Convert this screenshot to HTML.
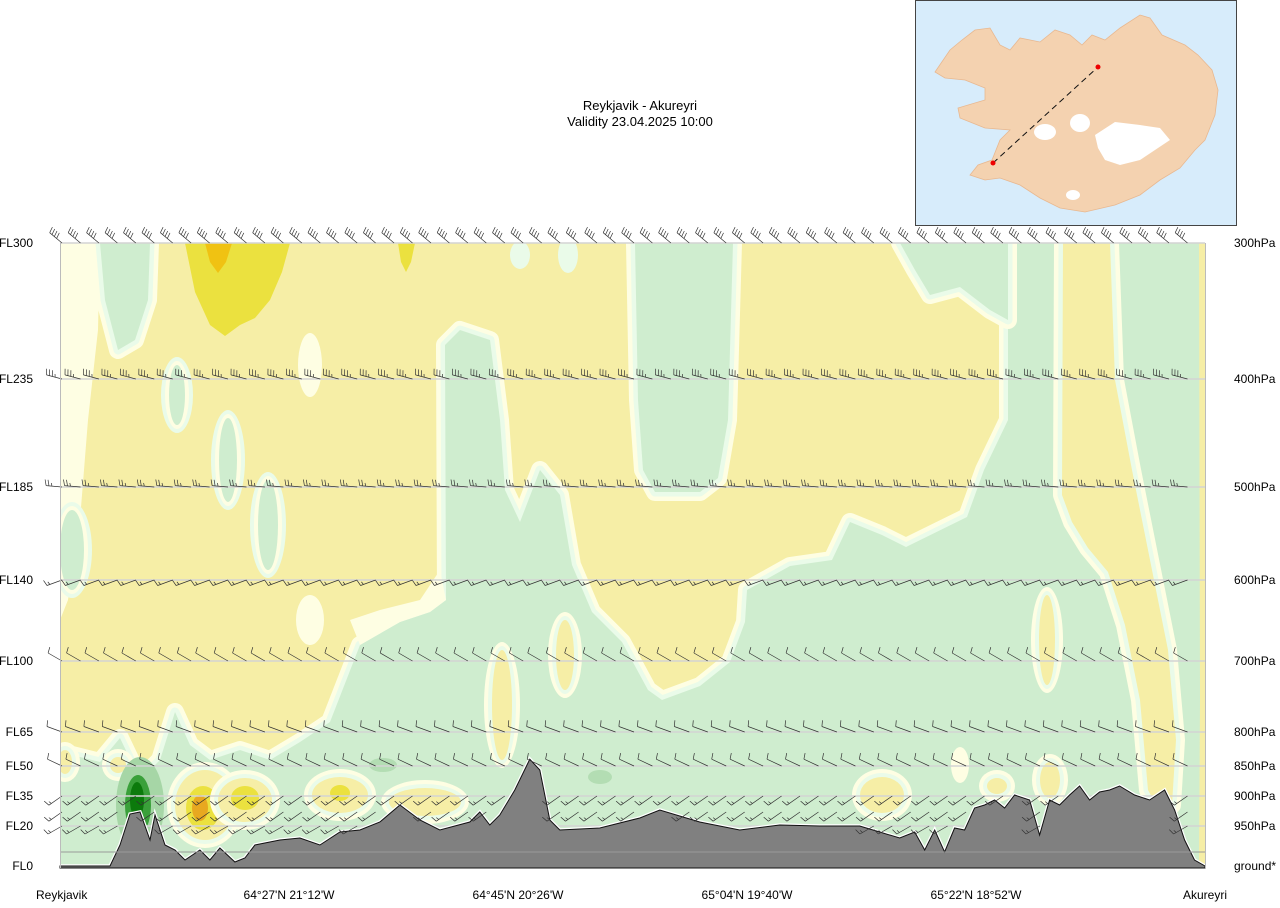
<!DOCTYPE html>
<html><head><meta charset="utf-8"><style>
html,body{margin:0;padding:0;background:#fff;}
svg{display:block;font-family:"Liberation Sans","DejaVu Sans",sans-serif;}
</style></head><body>
<svg id="chart" width="1280" height="908" viewBox="0 0 1280 908" xmlns="http://www.w3.org/2000/svg">
<text x="640" y="110" text-anchor="middle" font-size="13">Reykjavik - Akureyri</text>
<text x="640" y="126" text-anchor="middle" font-size="13">Validity 23.04.2025 10:00</text>

<g>
<rect x="915.5" y="0.5" width="321" height="225" fill="#d7ecfb" stroke="#444"/>
<path d="M935,72 L950,50 L962,40 L975,30 L990,28 L1000,45 L1010,50 L1020,38 L1040,42 L1055,30 L1070,35 L1082,45 L1092,35 L1105,40 L1120,28 L1140,15 L1150,18 L1162,35 L1185,45 L1198,55 L1212,70 L1218,90 L1215,115 L1205,140 L1195,150 L1180,168 L1160,180 L1140,195 L1115,205 L1085,212 L1060,208 L1040,198 L1020,185 L1000,178 L985,180 L970,175 L978,165 L992,160 L1000,140 L1010,130 L985,128 L960,118 L958,108 L985,100 L985,88 L965,80 L945,78 Z" fill="#f4d2b0" stroke="#e8b890" stroke-width="0.8"/>
<path d="M1095,135 L1115,122 L1140,125 L1160,128 L1170,140 L1155,150 L1140,160 L1120,165 L1105,160 L1098,148 Z" fill="#fff"/>
<ellipse cx="1080" cy="123" rx="10" ry="9" fill="#fff"/>
<ellipse cx="1045" cy="132" rx="11" ry="8" fill="#fff"/>
<ellipse cx="1073" cy="195" rx="7" ry="5" fill="#fff"/>
<line x1="993" y1="163" x2="1098" y2="67" stroke="#111" stroke-width="1" stroke-dasharray="6,4"/>
<circle cx="993" cy="163" r="2.5" fill="#e00"/>
<circle cx="1098" cy="67" r="2.5" fill="#e00"/>
</g>

<defs><clipPath id="plotclip"><rect x="60" y="243" width="1145" height="625"/></clipPath></defs>
<g id="field" clip-path="url(#plotclip)"></g>
<g id="grid"></g>
<g id="terrain"></g>
<g id="barbs"></g>
<g id="axes"></g>
</svg>
<script>
const levelFL=[0,20,35,50,65,100,140,185,235,300];
const levelHPa=['ground*','950hPa','900hPa','850hPa','800hPa','700hPa','600hPa','500hPa','400hPa','300hPa'];
const levelPix=[866,826,796,766,732,661,580,487,379,243];
const totalKm=252;
const terrainKm=[0,11,13.2,15.4,17.6,19.8,20.9,23.1,25.3,27.5,30.8,33,35.2,38.5,40.7,42.9,48.4,52.8,57.2,61.6,66,70.4,74.8,79.2,83.6,90.2,92.4,94.6,96.8,100.1,103.4,105.6,107.8,110,118.8,127.6,132,140.8,149.6,158.4,167.2,176,180.4,184.8,188.1,190.3,192.5,194.7,196.9,199.1,201.3,203.5,205.7,207.9,210.1,213.4,215.6,217.8,220,222.2,224.4,226.6,228.8,231,233.2,236.5,239.8,243.1,245.3,247.5,249.7,252];
const terrainFL=[0,0,10.5,26,27,13,25.5,10.5,8,3,8,3,9,2,4,10.5,13,14,10.5,17,18,22,30.5,23,18,22,27,20.5,25.5,38,53,48,23,18,19,24,28,22,18,20.5,20,20,17,14,17,8,18,7,19,18,29,30.5,33,29,35.5,33,15.5,33,30.5,35.5,40,33,37,38,40,35.5,33,38,28,13,3,0];
const barbLevels=[300,235,185,140,100,65,50,35,27,20];
const barbDir=[310,285,275,250,300,290,295,235,235,240];
const barbSpeed=[40,35,25,15,10,10,10,15,15,15];
const bottomLabels=['Reykjavik','64°27\'N 21°12\'W','64°45\'N 20°26\'W','65°04\'N 19°40\'W','65°22\'N 18°52\'W','Akureyri'];
const bottomLabelKm=[0,50.4,100.8,151.2,201.6,252];

const NS='http://www.w3.org/2000/svg';
function xS(km){return 60+km/totalKm*1145;}
function yS(fl){for(let i=1;i<levelFL.length;i++){if(fl<=levelFL[i]){const t=(fl-levelFL[i-1])/(levelFL[i]-levelFL[i-1]);return levelPix[i-1]+t*(levelPix[i]-levelPix[i-1]);}}return levelPix[levelPix.length-1];}
function mk(tag,attrs,parent){const e=document.createElementNS(NS,tag);for(const k in attrs)e.setAttribute(k,attrs[k]);parent.appendChild(e);return e;}

const field=document.getElementById('field');
const Y='#f6eea6',G='#cfedcf',PG='#eafbe9',PY='#fefee3',GOLD='#ebe13f',OR='#f0c212';
let bg=mk('rect',{x:60,y:243,width:1145,height:625,fill:Y},field);


function poly(pts,fill,name,halo){
  const d='M'+pts.map(p=>p.join(',')).join(' L')+' Z';
  if(halo){mk('path',{d:d,fill:PY,stroke:PY,'stroke-width':18,'stroke-linejoin':'round'},field);
    mk('path',{d:d,fill:PG,stroke:PG,'stroke-width':9,'stroke-linejoin':'round'},field);}
  const e=mk('path',{d:d,fill:fill,'stroke-linejoin':'round'},field);
  
  
}
function ell(cx,cy,rx,ry,fill,name,halo,haloCol){
  if(halo){mk('ellipse',{cx:cx,cy:cy,rx:rx+8,ry:ry+8,fill:haloCol||PY},field);mk('ellipse',{cx:cx,cy:cy,rx:rx+4,ry:ry+4,fill:haloCol===PY?PG:PY},field);}
  const e=mk('ellipse',{cx:cx,cy:cy,rx:rx,ry:ry,fill:fill},field);
  
  
}
poly([[60,243],[100,243],[98,330],[88,420],[80,520],[68,600],[60,620]],PY,'pale-left-strip',false);
ell(72,550,12,40,G,'green-left-spot',true,PG);
poly([[100,243],[150,243],[148,300],[135,340],[118,350],[105,300]],G,'green-left-column',true);
poly([[60,752],[100,762],[120,738],[140,780],[160,760],[175,712],[190,745],[210,760],[240,750],[270,760],[300,742],[330,722],[360,645],[400,622],[430,612],[446,600],[445,345],[460,330],[490,340],[500,420],[505,490],[520,522],[540,470],[560,495],[572,565],[592,612],[622,642],[648,690],[662,700],[700,686],[730,662],[745,622],[747,590],[790,566],[832,560],[850,522],[882,535],[906,547],[967,517],[984,470],[1008,420],[1008,243],[1215,243],[1215,878],[60,878]],G,'green-lower-region',true);
poly([[900,243],[1008,243],[1008,320],[990,310],[960,287],[930,295],[915,270]],G,'green-top-right',true);
poly([[635,243],[733,243],[728,420],[718,478],[700,492],[655,492],[643,470],[638,400]],G,'green-middle-column',true);
poly([[1063,243],[1110,243],[1115,380],[1132,470],[1150,560],[1168,650],[1176,740],[1172,805],[1160,812],[1148,790],[1140,700],[1125,625],[1108,572],[1088,548],[1072,522],[1062,495]],Y,'yellow-right-strip',true);
poly([[1199,243],[1205,243],[1205,868],[1199,868],[1200,700]],Y,'yellow-right-edge',false);
poly([[185,243],[290,243],[282,272],[270,300],[255,318],[240,325],[225,336],[210,325],[195,292]],GOLD,'gold-upper-left',false);
poly([[205,243],[232,243],[226,262],[218,273],[210,262]],OR,'orange-upper-left',false);
poly([[398,243],[415,243],[411,262],[406,272],[401,262]],GOLD,'gold-upper-small',false);
ell(310,365,12,32,PY,'pale-spot-1',false);
ell(177,395,8,30,G,'green-spot-1',true,PG);
ell(228,460,9,42,G,'green-spot-2',true,PG);
ell(268,525,10,45,G,'green-spot-3',true,PG);
ell(310,620,14,25,PY,'pale-spot-2',false);
ell(520,255,10,14,PG,'pale-spot-top-1',false);
ell(568,255,10,18,PG,'pale-spot-top-2',false);
poly([[360,645],[400,622],[430,612],[446,600],[440,570],[420,600],[380,610],[350,620]],PY,'pale-lower-mid',false);
ell(205,805,30,35,Y,'yellow-blob-1',true,PY);
ell(203,808,17,22,GOLD,'gold-blob-1',false);
ell(200,808,8,13,'#e8a820','orange-blob-1',false);
ell(245,800,27,22,Y,'yellow-blob-2',true,PY);
ell(245,798,14,12,GOLD,'gold-blob-2',false);
ell(340,795,28,18,Y,'yellow-blob-3',true,PY);
ell(340,793,10,8,GOLD,'gold-blob-3',false);
ell(425,802,36,14,Y,'yellow-blob-4',true,PY);
ell(882,795,22,18,Y,'yellow-blob-5',true,PY);
ell(997,786,10,8,Y,'yellow-blob-6',true,PY);
ell(1050,780,10,18,Y,'yellow-blob-7',true,PY);
ell(65,762,7,12,Y,'yellow-blob-8',true,PY);
ell(118,765,8,8,Y,'yellow-blob-9',true,PY);
ell(565,655,9,35,Y,'yellow-blob-10',true,PY);
ell(502,705,10,55,Y,'yellow-blob-11',true,PY);
ell(1047,640,8,45,Y,'yellow-blob-12',true,PY);
ell(960,765,9,18,PY,'pale-blob-13',false);
ell(140,805,24,48,'#a6d6a6','green-moist-1',false);
ell(138,805,13,30,'#3aa03a','green-moist-2',false);
ell(137,800,7,18,'#0c7a0c','green-moist-3',false);
ell(383,765,14,7,'#b3ddb3','green-moist-4',false);
ell(600,777,12,7,'#b3ddb3','green-moist-5',false);

const grid=document.getElementById('grid');
for(let i=1;i<levelFL.length;i++){
  const y=yS(levelFL[i]);
  const l=mk('line',{x1:60,x2:1205,y1:y,y2:y,stroke:'#d4d4d4','stroke-width':1.5},grid);
  
  
}
const ter=document.getElementById('terrain');
let d='M'+xS(0)+',868';
terrainKm.forEach((k,i)=>{d+=' L'+xS(k).toFixed(1)+','+yS(terrainFL[i]).toFixed(1);});
d+=' L'+xS(totalKm)+',868 Z';
const halo=mk('path',{d:d,fill:'none',stroke:'#fff','stroke-width':3.5},ter);


const tp=mk('path',{d:d,fill:'#808080',stroke:'#111','stroke-width':1},ter);


const gl=mk('line',{x1:60,x2:1205,y1:yS(7),y2:yS(7),stroke:'#9a9a9a','stroke-width':1},ter);



const bg2=document.getElementById('barbs');
function terrainAt(km){for(let i=1;i<terrainKm.length;i++){if(km<=terrainKm[i]){const t=(km-terrainKm[i-1])/(terrainKm[i]-terrainKm[i-1]);return terrainFL[i-1]+t*(terrainFL[i]-terrainFL[i-1]);}}return 0;}
barbLevels.forEach((fl,r)=>{
  const y=yS(fl);const dir=barbDir[r]*Math.PI/180;const spd=barbSpeed[r];
  const L=16,ux=Math.sin(dir),uy=-Math.cos(dir);
  const px=-uy,py=ux;
  for(let x=62;x<=1205;x+=18.45){
    const km=(x-60)/1145*totalKm;
    if(terrainAt(km)>fl-2)continue;
    const g=mk('g',{},bg2);
    
    
    const ex=x+ux*L,ey=y+uy*L;
    let s='M'+x.toFixed(1)+','+y.toFixed(1)+' L'+ex.toFixed(1)+','+ey.toFixed(1);
    let rem=spd,pos=0;
    while(rem>=10){const bx=ex-ux*pos,by=ey-uy*pos;s+=' M'+bx.toFixed(1)+','+by.toFixed(1)+' l'+(px*6+ux*1.5).toFixed(1)+','+(py*6+uy*1.5).toFixed(1);rem-=10;pos+=3;}
    if(rem>=5){const bx=ex-ux*(pos||3),by=ey-uy*(pos||3);s+=' M'+bx.toFixed(1)+','+by.toFixed(1)+' l'+(px*3+ux).toFixed(1)+','+(py*3+uy).toFixed(1);}
    mk('path',{d:s,fill:'none',stroke:'#333','stroke-width':0.7},g);
  }
});

const ax=document.getElementById('axes');
const lb=mk('line',{x1:60.5,x2:60.5,y1:243,y2:868,stroke:'#bbb'},ax);


const rb=mk('line',{x1:1205.5,x2:1205.5,y1:243,y2:868,stroke:'#bbb'},ax);


levelFL.forEach((fl,i)=>{
  const y=yS(fl);
  const t=mk('text',{x:33,y:y+4,'text-anchor':'end','font-size':12},ax);
  t.textContent=i===0?'FL0':'FL'+fl;
  
  
  const t2=mk('text',{x:1234,y:y+4,'font-size':12},ax);
  t2.textContent=levelHPa[i];
  
  
});
bottomLabels.forEach((s,i)=>{
  const x=xS(bottomLabelKm[i]);
  const anchor=i===0?'start':(i===bottomLabels.length-1?'end':'middle');
  const t=mk('text',{x:i===0?36:(i===bottomLabels.length-1?1227:x),y:899,'text-anchor':anchor,'font-size':12},ax);
  t.textContent=s;
  
  
});
</script>
</body></html>
